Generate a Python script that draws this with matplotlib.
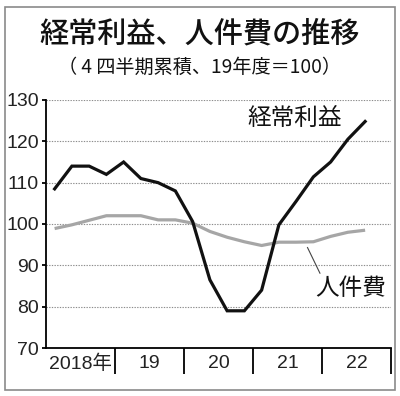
import numpy as np
import matplotlib
matplotlib.use('Agg')
import matplotlib.pyplot as plt
from matplotlib.patches import Rectangle

# 4四半期累積、19年度=100
profit = [108.5, 114, 114, 112, 115, 111, 110, 108, 100.6, 86.5, 79, 79,
          84, 99.8, 105.5, 111.4, 115, 120.5, 124.8]
labor = [98.9, 99.8, 100.9, 102, 102, 102, 101, 101, 100.2, 98.2, 96.8, 95.7,
         94.8, 95.6, 95.6, 95.7, 97, 98, 98.5]
year_labels = ['2018年', '19', '20', '21', '22']
y_ticks = [70, 80, 90, 100, 110, 120, 130]

jp = ['Noto Sans CJK JP', 'DejaVu Sans']
num = ['Liberation Sans', 'Noto Sans CJK JP']

fig = plt.figure(figsize=(4, 3.96), dpi=100)
fig.patches.append(Rectangle((0.0125, 0.015), 0.975, 0.967, transform=fig.transFigure,
                             fill=False, edgecolor='#8a8a8a', linewidth=1.2))

ax = fig.add_axes([0.115, 0.1212, 0.8625, 0.6263])

# quarter centres, one year = 1 unit
x = (np.arange(len(profit)) + 0.5) / 4
ax.plot(x, labor, color='#a6a6a6', linewidth=2.3, solid_capstyle='butt', zorder=3)
ax.plot(x, profit, color='#111111', linewidth=2.3, solid_joinstyle='miter', zorder=4)

ax.set_xlim(0, 5)
ax.set_ylim(70, 130)

for v in y_ticks[1:]:
    ax.axhline(v, color='#8c8c8c', linewidth=0.8, linestyle=(0, (1.2, 1.2)), zorder=1)

ax.spines['top'].set_visible(False)
ax.spines['right'].set_visible(False)
ax.spines['left'].set_linewidth(1.3)
ax.spines['bottom'].set_linewidth(1.3)

ax.set_yticks(y_ticks)
ax.set_yticklabels([str(v) for v in y_ticks], family=num, fontsize=14, color='#222222')
ax.tick_params(axis='y', direction='out', length=3, width=1.3, pad=2)

# year separators as long major ticks, labels on minor ticks
ax.set_xticks([1, 2, 3, 4, 5])
ax.set_xticklabels([])
ax.tick_params(axis='x', which='major', direction='out', length=19, width=1.3)
ax.set_xticks(np.arange(5) + 0.5, minor=True)
ax.set_xticklabels(year_labels, minor=True, family=num, fontsize=14, color='#222222')
ax.tick_params(axis='x', which='minor', length=0, pad=5)

ax.text(3.61, 125.6, '経常利益', family=jp, fontsize=17, ha='center', va='center', color='#111111')
ax.text(4.41, 84.3, '人件費', family=jp, fontsize=17, ha='center', va='center', color='#111111')
ax.plot([3.79, 3.97], [94.3, 88.1], color='#444444', linewidth=0.8, zorder=2)

fig.text(0.5, 0.914, '経常利益、人件費の推移', family=jp, fontsize=21, fontweight='medium',
         ha='center', va='center', color='#111111')
fig.text(0.5, 0.831, '（ 4 四半期累積、19年度＝100）', family=jp, fontsize=13.8,
         ha='center', va='center', color='#111111')

fig.savefig('out.png', dpi=100)
